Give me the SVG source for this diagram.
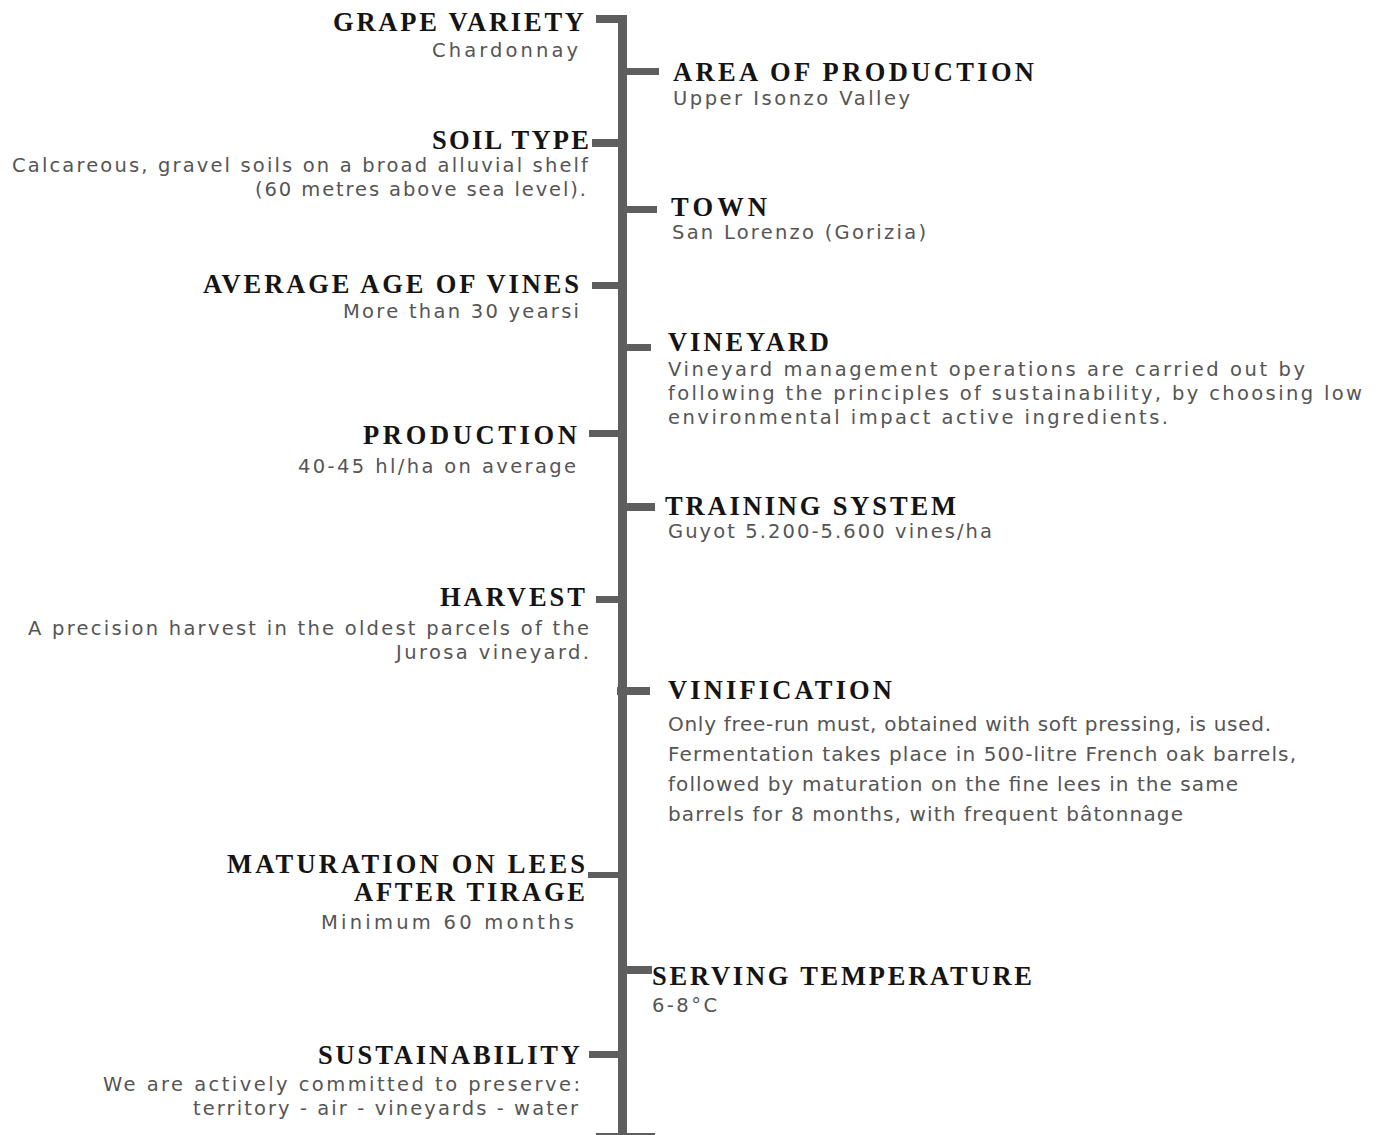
<svg xmlns="http://www.w3.org/2000/svg" width="1379" height="1135" viewBox="0 0 1379 1135">
<style>
.h{font-family:"Liberation Serif","Times New Roman",serif;font-weight:bold;font-size:26.5px;fill:#141414;}
.b{font-family:"DejaVu Sans","Noto Sans",sans-serif;font-size:19.5px;fill:#555555;}
.v{font-family:"DejaVu Sans","Noto Sans",sans-serif;font-size:20px;fill:#555555;}
.ln{fill:#5e5e5e;}
</style>
<rect width="1379" height="1135" fill="#ffffff"/>
<g id="connectors">
<rect class="ln" x="618" y="15" width="9" height="1120"/>
<rect class="ln" x="596" y="15" width="22" height="8"/>
<rect class="ln" x="627" y="68" width="32" height="7"/>
<rect class="ln" x="592" y="139" width="26" height="8"/>
<rect class="ln" x="627" y="206" width="30" height="7"/>
<rect class="ln" x="592" y="282" width="26" height="7"/>
<rect class="ln" x="627" y="344" width="24" height="7"/>
<rect class="ln" x="589" y="430" width="29" height="7"/>
<rect class="ln" x="627" y="503" width="28" height="8"/>
<rect class="ln" x="596" y="596" width="22" height="7"/>
<rect class="ln" x="617" y="687" width="33" height="8"/>
<rect class="ln" x="588" y="872" width="30" height="6"/>
<rect class="ln" x="627" y="966" width="25" height="8"/>
<rect class="ln" x="589" y="1051" width="29" height="7"/>
<rect class="ln" x="596" y="1133" width="59" height="2"/>
</g>
<g id="grape-variety">
<text class="h" x="333" y="31" textLength="251" lengthAdjust="spacing">GRAPE VARIETY</text>
<text class="b" x="432" y="57" textLength="146" lengthAdjust="spacing">Chardonnay</text>
</g>
<g id="area-of-production">
<text class="h" x="673" y="81" textLength="361" lengthAdjust="spacing">AREA OF PRODUCTION</text>
<text class="b" x="673" y="105" textLength="237" lengthAdjust="spacing">Upper Isonzo Valley</text>
</g>
<g id="soil-type">
<text class="h" x="432" y="149" textLength="157" lengthAdjust="spacing">SOIL TYPE</text>
<text class="b" x="12" y="172" textLength="576" lengthAdjust="spacing">Calcareous, gravel soils on a broad alluvial shelf</text>
<text class="b" x="255" y="196" textLength="331" lengthAdjust="spacing">(60 metres above sea level).</text>
</g>
<g id="town">
<text class="h" x="671" y="216" textLength="96" lengthAdjust="spacing">TOWN</text>
<text class="b" x="672" y="239" textLength="254" lengthAdjust="spacing">San Lorenzo (Gorizia)</text>
</g>
<g id="average-age">
<text class="h" x="203" y="293" textLength="376" lengthAdjust="spacing">AVERAGE AGE OF VINES</text>
<text class="b" x="343" y="318" textLength="236" lengthAdjust="spacing">More than 30 yearsi</text>
</g>
<g id="vineyard">
<text class="h" x="668" y="351" textLength="161" lengthAdjust="spacing">VINEYARD</text>
<text class="b" x="668" y="376" textLength="637" lengthAdjust="spacing">Vineyard management operations are carried out by</text>
<text class="b" x="668" y="400" textLength="694" lengthAdjust="spacing">following the principles of sustainability, by choosing low</text>
<text class="b" x="668" y="424" textLength="500" lengthAdjust="spacing">environmental impact active ingredients.</text>
</g>
<g id="production">
<text class="h" x="363" y="444" textLength="214" lengthAdjust="spacing">PRODUCTION</text>
<text class="b" x="298" y="473" textLength="278" lengthAdjust="spacing">40-45 hl/ha on average</text>
</g>
<g id="training-system">
<text class="h" x="665" y="515" textLength="291" lengthAdjust="spacing">TRAINING SYSTEM</text>
<text class="b" x="668" y="538" textLength="324" lengthAdjust="spacing">Guyot 5.200-5.600 vines/ha</text>
</g>
<g id="harvest">
<text class="h" x="440" y="606" textLength="145" lengthAdjust="spacing">HARVEST</text>
<text class="b" x="28" y="635" textLength="561" lengthAdjust="spacing">A precision harvest in the oldest parcels of the</text>
<text class="b" x="396" y="659" textLength="193" lengthAdjust="spacing">Jurosa vineyard.</text>
</g>
<g id="vinification">
<text class="h" x="668" y="699" textLength="224" lengthAdjust="spacing">VINIFICATION</text>
<text class="v" x="668" y="731" textLength="603" lengthAdjust="spacing">Only free-run must, obtained with soft pressing, is used.</text>
<text class="v" x="668" y="761" textLength="628" lengthAdjust="spacing">Fermentation takes place in 500-litre French oak barrels,</text>
<text class="v" x="668" y="791" textLength="570" lengthAdjust="spacing">followed by maturation on the fine lees in the same</text>
<text class="v" x="668" y="821" textLength="515" lengthAdjust="spacing">barrels for 8 months, with frequent bâtonnage</text>
</g>
<g id="maturation">
<text class="h" x="227" y="873" textLength="358" lengthAdjust="spacing">MATURATION ON LEES</text>
<text class="h" x="354" y="901" textLength="231" lengthAdjust="spacing">AFTER TIRAGE</text>
<text class="b" x="321" y="929" textLength="253" lengthAdjust="spacing">Minimum 60 months</text>
</g>
<g id="serving-temperature">
<text class="h" x="652" y="985" textLength="380" lengthAdjust="spacing">SERVING TEMPERATURE</text>
<text class="b" x="652" y="1012" textLength="65" lengthAdjust="spacing">6-8°C</text>
</g>
<g id="sustainability">
<text class="h" x="318" y="1064" textLength="262" lengthAdjust="spacing">SUSTAINABILITY</text>
<text class="b" x="103" y="1091" textLength="477" lengthAdjust="spacing">We are actively committed to preserve:</text>
<text class="b" x="193" y="1115" textLength="385" lengthAdjust="spacing">territory - air - vineyards - water</text>
</g>
</svg>
